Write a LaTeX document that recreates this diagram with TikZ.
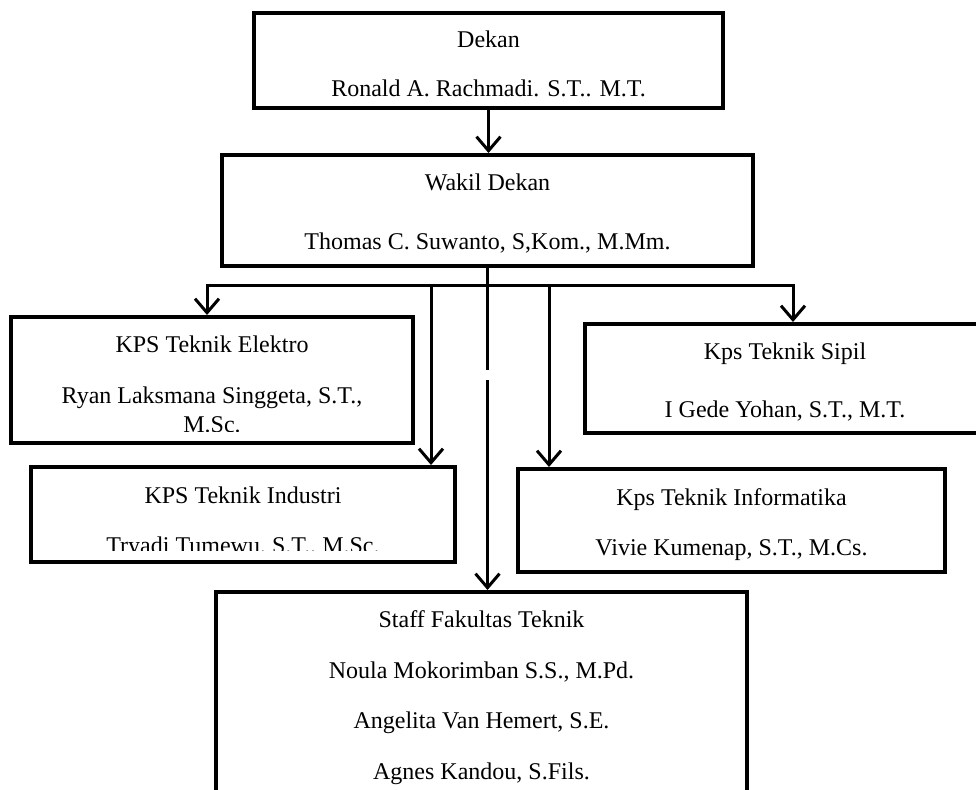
\documentclass[tikz,border=0pt]{standalone}
\usepackage{fontspec}
\setmainfont{Liberation Serif}
\usetikzlibrary{arrows.meta}

\begin{document}
\begin{tikzpicture}[x=1pt, y=-1pt, line join=miter,
	every node/.style={font=\fontsize{24}{28}\selectfont, anchor=base, inner sep=0pt},
	kotak/.style={draw, line width=4pt, anchor=center},
	garis/.style={line width=3pt},
	panah/.style={line width=3pt, -{Straight Barb[length=14pt, width=24pt, line width=3pt]}}]
	
	\useasboundingbox (0, 0) rectangle (976, 789);
	\clip (0, 0) rectangle (976, 789);
	
	% Dekan
	\node[kotak, minimum width=469, minimum height=95] (dekan) at (488.5, 60.5) {};
	\node (dekanA) at (488.5, 48) {Dekan};
	\node (dekanB) at (488.5, 97) {Ronald A. Rachmadi. S.T.. M.T.};
	
	% Wakil dekan
	\node[kotak, minimum width=531, minimum height=111] (wakil) at (487.5, 210.5) {};
	\node (wakilA) at (487.5, 190) {Wakil Dekan};
	\node (wakilB) at (487.5, 249) {Thomas C. Suwanto, S,Kom., M.Mm.};
	
	% KPS Elektro
	\node[kotak, minimum width=402, minimum height=126] (elektro) at (212, 380) {};
	\node (elektroA) at (212, 352) {KPS Teknik Elektro};
	\node (elektroB) at (212, 403) {Ryan Laksmana Singgeta, S.T.,};
	\begin{scope}
		\clip (11, 320) rectangle (413, 431.5);
		\node (elektroC) at (212, 432) {M.Sc.};
	\end{scope}
	
	% KPS Industri
	\node[kotak, minimum width=424, minimum height=95] (industri) at (243, 514.5) {};
	\node (industriA) at (243, 503) {KPS Teknik Industri};
	\begin{scope}
		\clip (31, 470) rectangle (455, 550);
		\node (industriB) at (243, 553) {Tryadi Tumewu, S.T., M.Sc.};
	\end{scope}
	
	% Kps Sipil
	\node[kotak, minimum width=400, minimum height=109] (sipil) at (785, 378.5) {};
	\node (sipilA) at (785, 359) {Kps Teknik Sipil};
	\node (sipilB) at (785, 417) {I Gede Yohan, S.T., M.T.};
	
	% Kps Informatika
	\node[kotak, minimum width=427, minimum height=103] (informatika) at (731.5, 520.5) {};
	\node (informatikaA) at (731.5, 505) {Kps Teknik Informatika};
	\node (informatikaB) at (731.5, 555) {Vivie Kumenap, S.T., M.Cs.};
	
	% Staff
	\node[kotak, minimum width=531, minimum height=238] (staff) at (481.5, 711) {};
	\node (staffA) at (481.5, 627) {Staff Fakultas Teknik};
	\node (staffB) at (481.5, 678) {Noula Mokorimban S.S., M.Pd.};
	\node (staffC) at (481.5, 728) {Angelita Van Hemert, S.E.};
	\node (staffD) at (481.5, 779) {Agnes Kandou, S.Fils.};
	
	% Garis penghubung
	\coordinate (bus) at (487.5, 285);
	\coordinate (kiri) at (207, 285);
	\coordinate (kanan) at (793, 285);
	\coordinate (b2) at (431, 285);
	\coordinate (b3) at (549, 285);
	\coordinate (putus1) at (487.5, 370);
	\coordinate (putus2) at (487.5, 380);
	
	\draw[panah] (dekan.south) -- (dekan.south |- wakil.north);
	\draw[garis] (wakil.south) -- (putus1);
	\draw[panah] (putus2) -- (putus2 |- staff.north);
	\draw[panah] (bus) -- (kiri) -- (kiri |- elektro.north);
	\draw[panah] (bus) -- (kanan) -- (kanan |- sipil.north);
	\draw[panah] (b2) -- (b2 |- industri.north);
	\draw[panah] (b3) -- (b3 |- informatika.north);
\end{tikzpicture}
\end{document}
